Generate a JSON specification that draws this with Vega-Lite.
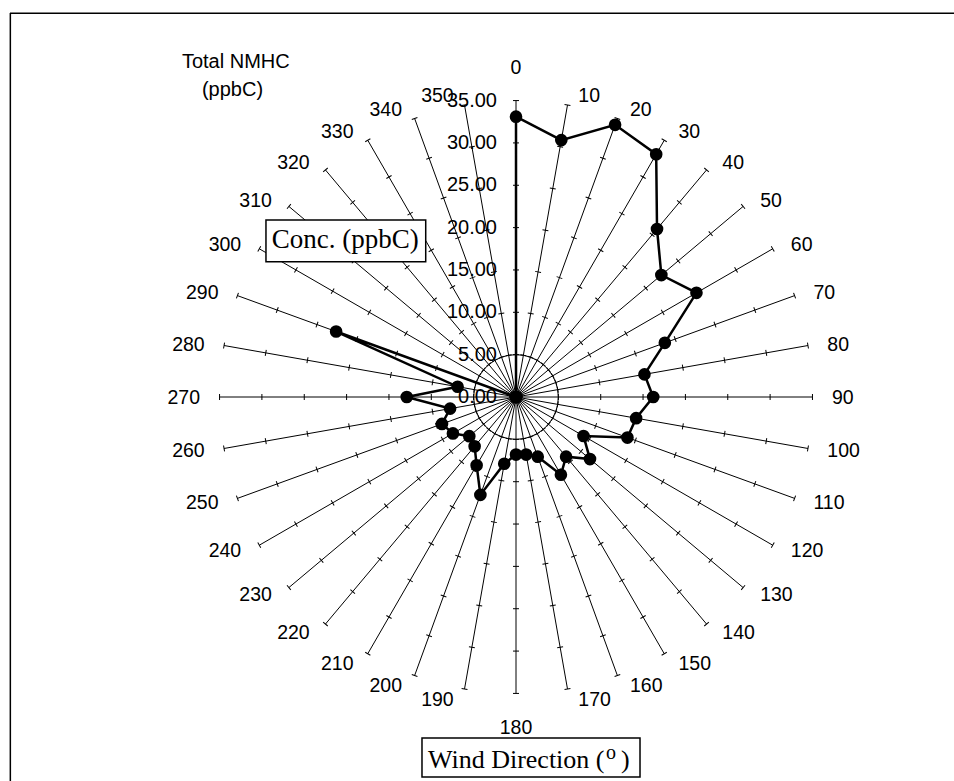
{
  "$schema": "https://vega.github.io/schema/vega-lite/v6.json",
  "width": 944,
  "height": 768,
  "autosize": {"type": "none"},
  "padding": {"left": 10, "top": 13, "right": 0, "bottom": 0},
  "background": "white",
  "view": {"stroke": null},
  "config": {"view": {"stroke": null}, "text": {"font": "Liberation Sans", "color": "black"}},
  "datasets": {
    "nmhc": [
      {"dir": 0, "conc": 33.1}, {"dir": 10, "conc": 30.8}, {"dir": 20, "conc": 34.2},
      {"dir": 30, "conc": 33.1}, {"dir": 40, "conc": 25.9}, {"dir": 50, "conc": 22.4},
      {"dir": 60, "conc": 24.6}, {"dir": 70, "conc": 18.7}, {"dir": 80, "conc": 15.4},
      {"dir": 90, "conc": 16.2}, {"dir": 100, "conc": 14.4}, {"dir": 110, "conc": 14.0},
      {"dir": 120, "conc": 9.2}, {"dir": 130, "conc": 11.4}, {"dir": 140, "conc": 9.2},
      {"dir": 150, "conc": 10.6}, {"dir": 160, "conc": 7.5}, {"dir": 170, "conc": 6.9},
      {"dir": 180, "conc": 6.8}, {"dir": 190, "conc": 8.0}, {"dir": 200, "conc": 12.3},
      {"dir": 210, "conc": 9.3}, {"dir": 220, "conc": 7.6}, {"dir": 230, "conc": 7.2},
      {"dir": 240, "conc": 8.6}, {"dir": 250, "conc": 9.3}, {"dir": 260, "conc": 7.9},
      {"dir": 270, "conc": 12.9}, {"dir": 280, "conc": 7.0}, {"dir": 290, "conc": 22.6},
      {"dir": 300, "conc": 0}, {"dir": 310, "conc": 0}, {"dir": 320, "conc": 0},
      {"dir": 330, "conc": 0}, {"dir": 340, "conc": 0}, {"dir": 350, "conc": 0}
    ],
    "levels": [
      {"lv": 0}, {"lv": 5}, {"lv": 10}, {"lv": 15}, {"lv": 20}, {"lv": 25}, {"lv": 30}, {"lv": 35}
    ]
  },
  "layer": [
    {
      "data": {"values": [{}]},
      "mark": {"type": "rule", "color": "black", "strokeWidth": 1.5},
      "encoding": {
        "x": {"datum": -59.74, "type": "quantitative", "scale": {"domain": [-59.74, 51.71], "nice": false, "zero": false}, "axis": null},
        "x2": {"datum": 51.71},
        "y": {"datum": 45.3, "type": "quantitative", "scale": {"domain": [-45.34, 45.34], "nice": false, "zero": false}, "axis": null}
      }
    },
    {
      "data": {"values": [{}]},
      "mark": {"type": "rule", "color": "black", "strokeWidth": 1.5},
      "encoding": {
        "x": {"datum": -59.7, "type": "quantitative", "scale": {"domain": [-59.74, 51.71], "nice": false, "zero": false}, "axis": null},
        "y": {"datum": -45.34, "type": "quantitative", "scale": {"domain": [-45.34, 45.34], "nice": false, "zero": false}, "axis": null},
        "y2": {"datum": 45.34}
      }
    },
    {
      "data": {"name": "nmhc"},
      "transform": [
        {"calculate": "5 * sin(datum.dir * PI / 180)", "as": "px"},
        {"calculate": "5 * cos(datum.dir * PI / 180)", "as": "py"}
      ],
      "mark": {"type": "line", "interpolate": "linear-closed", "color": "black", "strokeWidth": 1},
      "encoding": {
        "x": {"field": "px", "type": "quantitative", "scale": {"domain": [-59.74, 51.71], "nice": false, "zero": false}, "axis": null},
        "y": {"field": "py", "type": "quantitative", "scale": {"domain": [-45.34, 45.34], "nice": false, "zero": false}, "axis": null},
        "order": {"field": "dir", "type": "quantitative"}
      }
    },
    {
      "data": {"name": "nmhc"},
      "transform": [
        {"calculate": "0", "as": "ox"},
        {"calculate": "35 * sin(datum.dir * PI / 180)", "as": "ex"},
        {"calculate": "35 * cos(datum.dir * PI / 180)", "as": "ey"}
      ],
      "mark": {"type": "rule", "color": "black", "strokeWidth": 1},
      "encoding": {
        "x": {"field": "ox", "type": "quantitative", "scale": {"domain": [-59.74, 51.71], "nice": false, "zero": false}, "axis": null},
        "y": {"field": "ox", "type": "quantitative", "scale": {"domain": [-45.34, 45.34], "nice": false, "zero": false}, "axis": null},
        "x2": {"field": "ex"},
        "y2": {"field": "ey"}
      }
    },
    {
      "data": {"name": "nmhc"},
      "transform": [
        {"calculate": "[5, 10, 15, 20, 25, 30, 35]", "as": "lvs"},
        {"flatten": ["lvs"], "as": ["lv"]},
        {"calculate": "datum.lv * sin(datum.dir * PI / 180)", "as": "px"},
        {"calculate": "datum.lv * cos(datum.dir * PI / 180)", "as": "py"}
      ],
      "mark": {"type": "point", "shape": "stroke", "filled": false, "size": 36, "color": "black", "strokeWidth": 1, "opacity": 1},
      "encoding": {
        "x": {"field": "px", "type": "quantitative", "scale": {"domain": [-59.74, 51.71], "nice": false, "zero": false}, "axis": null},
        "y": {"field": "py", "type": "quantitative", "scale": {"domain": [-45.34, 45.34], "nice": false, "zero": false}, "axis": null},
        "angle": {"field": "dir", "type": "quantitative", "scale": {"domain": [0, 360], "range": [0, 360], "zero": false, "nice": false}, "legend": null}
      }
    },
    {
      "data": {"name": "nmhc"},
      "transform": [
        {"calculate": "datum.conc * sin(datum.dir * PI / 180)", "as": "px"},
        {"calculate": "datum.conc * cos(datum.dir * PI / 180)", "as": "py"}
      ],
      "mark": {"type": "line", "interpolate": "linear-closed", "color": "black", "strokeWidth": 2.5},
      "encoding": {
        "x": {"field": "px", "type": "quantitative", "scale": {"domain": [-59.74, 51.71], "nice": false, "zero": false}, "axis": null},
        "y": {"field": "py", "type": "quantitative", "scale": {"domain": [-45.34, 45.34], "nice": false, "zero": false}, "axis": null},
        "order": {"field": "dir", "type": "quantitative"}
      }
    },
    {
      "data": {"name": "nmhc"},
      "transform": [
        {"calculate": "datum.conc * sin(datum.dir * PI / 180)", "as": "px"},
        {"calculate": "datum.conc * cos(datum.dir * PI / 180)", "as": "py"}
      ],
      "mark": {"type": "point", "shape": "circle", "filled": true, "size": 160, "color": "black", "opacity": 1},
      "encoding": {
        "x": {"field": "px", "type": "quantitative", "scale": {"domain": [-59.74, 51.71], "nice": false, "zero": false}, "axis": null},
        "y": {"field": "py", "type": "quantitative", "scale": {"domain": [-45.34, 45.34], "nice": false, "zero": false}, "axis": null}
      }
    },
    {
      "data": {"name": "levels"},
      "transform": [{"calculate": "0", "as": "ox"}],
      "mark": {"type": "text", "align": "right", "baseline": "middle", "dx": -19, "fontSize": 20},
      "encoding": {
        "x": {"field": "ox", "type": "quantitative", "scale": {"domain": [-59.74, 51.71], "nice": false, "zero": false}, "axis": null},
        "y": {"field": "lv", "type": "quantitative", "scale": {"domain": [-45.34, 45.34], "nice": false, "zero": false}, "axis": null},
        "text": {"field": "lv", "type": "quantitative", "format": ".2f"}
      }
    },
    {
      "data": {"name": "nmhc"},
      "transform": [
        {"filter": "datum.dir > 0 && datum.dir < 180"},
        {"calculate": "36.24 * sin(datum.dir * PI / 180)", "as": "px"},
        {"calculate": "36.24 * cos(datum.dir * PI / 180)", "as": "py"}
      ],
      "mark": {"type": "text", "align": "left", "baseline": "middle", "dx": 9, "dy": 1, "fontSize": 19.5},
      "encoding": {
        "x": {"field": "px", "type": "quantitative", "scale": {"domain": [-59.74, 51.71], "nice": false, "zero": false}, "axis": null},
        "y": {"field": "py", "type": "quantitative", "scale": {"domain": [-45.34, 45.34], "nice": false, "zero": false}, "axis": null},
        "text": {"field": "dir", "type": "quantitative", "format": "d"}
      }
    },
    {
      "data": {"name": "nmhc"},
      "transform": [
        {"filter": "datum.dir > 180"},
        {"calculate": "36.24 * sin(datum.dir * PI / 180)", "as": "px"},
        {"calculate": "36.24 * cos(datum.dir * PI / 180)", "as": "py"}
      ],
      "mark": {"type": "text", "align": "right", "baseline": "middle", "dx": -9, "dy": 1, "fontSize": 19.5},
      "encoding": {
        "x": {"field": "px", "type": "quantitative", "scale": {"domain": [-59.74, 51.71], "nice": false, "zero": false}, "axis": null},
        "y": {"field": "py", "type": "quantitative", "scale": {"domain": [-45.34, 45.34], "nice": false, "zero": false}, "axis": null},
        "text": {"field": "dir", "type": "quantitative", "format": "d"}
      }
    },
    {
      "data": {"name": "nmhc"},
      "transform": [
        {"filter": "datum.dir == 0 || datum.dir == 180"},
        {"calculate": "38.96 * sin(datum.dir * PI / 180)", "as": "px"},
        {"calculate": "38.96 * cos(datum.dir * PI / 180)", "as": "py"}
      ],
      "mark": {"type": "text", "align": "center", "baseline": "middle", "dy": 1, "fontSize": 19.5},
      "encoding": {
        "x": {"field": "px", "type": "quantitative", "scale": {"domain": [-59.74, 51.71], "nice": false, "zero": false}, "axis": null},
        "y": {"field": "py", "type": "quantitative", "scale": {"domain": [-45.34, 45.34], "nice": false, "zero": false}, "axis": null},
        "text": {"field": "dir", "type": "quantitative", "format": "d"}
      }
    },
    {
      "data": {"values": [{}]},
      "mark": {"type": "rect", "fill": "white", "stroke": "black", "strokeWidth": 1.5},
      "encoding": {
        "x": {"datum": -29.52, "type": "quantitative", "scale": {"domain": [-59.74, 51.71], "nice": false, "zero": false}, "axis": null},
        "x2": {"datum": -10.66},
        "y": {"datum": 20.9, "type": "quantitative", "scale": {"domain": [-45.34, 45.34], "nice": false, "zero": false}, "axis": null},
        "y2": {"datum": 15.97}
      }
    },
    {
      "data": {"values": [{}]},
      "mark": {"type": "text", "text": "Conc. (ppbC)", "font": "Liberation Serif", "fontSize": 27, "align": "left", "baseline": "alphabetic"},
      "encoding": {
        "x": {"datum": -28.84, "type": "quantitative", "scale": {"domain": [-59.74, 51.71], "nice": false, "zero": false}, "axis": null},
        "y": {"datum": 17.56, "type": "quantitative", "scale": {"domain": [-45.34, 45.34], "nice": false, "zero": false}, "axis": null}
      }
    },
    {
      "data": {"values": [{}]},
      "mark": {"type": "rect", "fill": "white", "stroke": "black", "strokeWidth": 1.5},
      "encoding": {
        "x": {"datum": -11.1, "type": "quantitative", "scale": {"domain": [-59.74, 51.71], "nice": false, "zero": false}, "axis": null},
        "x2": {"datum": 14.64},
        "y": {"datum": -40.26, "type": "quantitative", "scale": {"domain": [-45.34, 45.34], "nice": false, "zero": false}, "axis": null},
        "y2": {"datum": -44.86}
      }
    },
    {
      "data": {"values": [{}]},
      "mark": {"type": "text", "text": "Wind Direction (", "font": "Liberation Serif", "fontSize": 26, "align": "left", "baseline": "alphabetic"},
      "encoding": {
        "x": {"datum": -10.4, "type": "quantitative", "scale": {"domain": [-59.74, 51.71], "nice": false, "zero": false}, "axis": null},
        "y": {"datum": -43.84, "type": "quantitative", "scale": {"domain": [-45.34, 45.34], "nice": false, "zero": false}, "axis": null}
      }
    },
    {
      "data": {"values": [{}]},
      "mark": {"type": "text", "text": "o", "font": "Liberation Serif", "fontSize": 20, "align": "left", "baseline": "alphabetic"},
      "encoding": {
        "x": {"datum": 10.63, "type": "quantitative", "scale": {"domain": [-59.74, 51.71], "nice": false, "zero": false}, "axis": null},
        "y": {"datum": -42.74, "type": "quantitative", "scale": {"domain": [-45.34, 45.34], "nice": false, "zero": false}, "axis": null}
      }
    },
    {
      "data": {"values": [{}]},
      "mark": {"type": "text", "text": ")", "font": "Liberation Serif", "fontSize": 26, "align": "left", "baseline": "alphabetic"},
      "encoding": {
        "x": {"datum": 12.4, "type": "quantitative", "scale": {"domain": [-59.74, 51.71], "nice": false, "zero": false}, "axis": null},
        "y": {"datum": -43.84, "type": "quantitative", "scale": {"domain": [-45.34, 45.34], "nice": false, "zero": false}, "axis": null}
      }
    },
    {
      "data": {"values": [{}]},
      "mark": {"type": "text", "text": "Total NMHC", "fontSize": 20, "align": "center", "baseline": "alphabetic"},
      "encoding": {
        "x": {"datum": -33.08, "type": "quantitative", "scale": {"domain": [-59.74, 51.71], "nice": false, "zero": false}, "axis": null},
        "y": {"datum": 38.84, "type": "quantitative", "scale": {"domain": [-45.34, 45.34], "nice": false, "zero": false}, "axis": null}
      }
    },
    {
      "data": {"values": [{}]},
      "mark": {"type": "text", "text": "(ppbC)", "fontSize": 20, "align": "center", "baseline": "alphabetic"},
      "encoding": {
        "x": {"datum": -33.47, "type": "quantitative", "scale": {"domain": [-59.74, 51.71], "nice": false, "zero": false}, "axis": null},
        "y": {"datum": 35.54, "type": "quantitative", "scale": {"domain": [-45.34, 45.34], "nice": false, "zero": false}, "axis": null}
      }
    }
  ]
}
